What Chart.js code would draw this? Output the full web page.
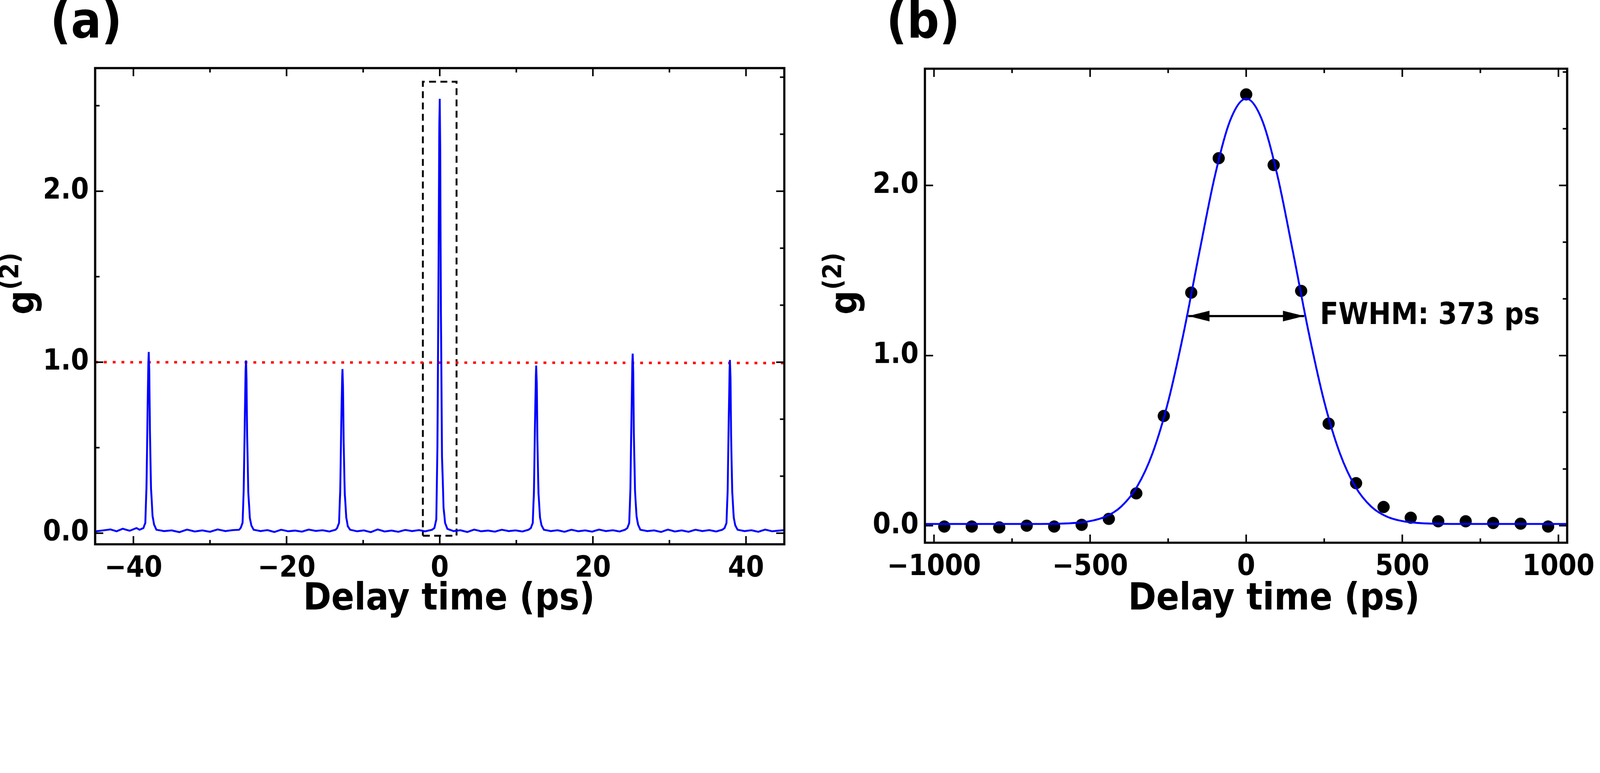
<!DOCTYPE html>
<html>
<head>
<meta charset="utf-8">
<script src="https://cdn.jsdelivr.net/npm/chart.js@4.4.0/dist/chart.umd.min.js"></script>
<style>
  body { margin: 0; background: #fff; overflow: hidden; }
  .panel { position: absolute; top: 0; }
  canvas { display: block; }
</style>
</head>
<body>
<div class="panel" id="panelA"><canvas id="chartA" width="2548" height="1980"></canvas></div>
<div class="panel" id="panelB"><canvas id="chartB" width="2549" height="1980"></canvas></div>
<script>
// ---------- data: panel (a) ----------
const delayA = [
  -45, -44, -43, -42.2, -41.4, -40.5, -39.6, -39.2,
  -38.7, -38.45, -38.3, -38.15, -38.05, -38.0, -37.93, -37.85, -37.7, -37.5, -37.3, -37.0,
  -36, -35, -34, -33, -32, -31, -30, -29, -28, -27, -26.2,
  -26.0, -25.75, -25.6, -25.45, -25.35, -25.3, -25.23, -25.15, -25.0, -24.8, -24.6, -24.3,
  -23.4, -22.5, -21.6, -20.7, -19.8, -18.9, -18, -17.1, -16.2, -15.3, -14.4, -13.6,
  -13.4, -13.15, -13.0, -12.85, -12.75, -12.7, -12.63, -12.55, -12.4, -12.2, -12.0, -11.7,
  -10.8, -9.9, -9, -8.1, -7.2, -6.3, -5.4, -4.5, -3.6, -2.7, -1.9, -1.0,
  -0.7, -0.45, -0.3, -0.15, -0.05, 0.0, 0.07, 0.15, 0.3, 0.5, 0.7, 1.0,
  1.8, 2.7, 3.6, 4.5, 5.4, 6.3, 7.2, 8.1, 9, 9.9, 10.8, 11.6,
  11.9, 12.15, 12.3, 12.45, 12.55, 12.6, 12.67, 12.75, 12.9, 13.1, 13.3, 13.6,
  14.5, 15.4, 16.3, 17.2, 18.1, 19, 19.9, 20.8, 21.7, 22.6, 23.5, 24.2,
  24.5, 24.75, 24.9, 25.05, 25.15, 25.2, 25.27, 25.35, 25.5, 25.7, 25.9, 26.2,
  27.1, 28, 28.9, 29.8, 30.7, 31.6, 32.5, 33.4, 34.3, 35.2, 36.1, 36.9,
  37.2, 37.45, 37.6, 37.75, 37.85, 37.9, 37.97, 38.05, 38.2, 38.4, 38.6, 38.9,
  39.8, 40.7, 41.6, 42.5, 43.4, 44.3, 45
];
const g2A = [
  0.010, 0.016, 0.022, 0.011, 0.026, 0.014, 0.030, 0.020,
  0.030, 0.060, 0.260, 0.720, 1.000, 1.060, 0.950, 0.600, 0.260, 0.100, 0.050, 0.020,
  0.012, 0.016, 0.006, 0.021, 0.010, 0.016, 0.008, 0.022, 0.012, 0.018, 0.020,
  0.030, 0.060, 0.250, 0.680, 0.950, 1.010, 0.900, 0.570, 0.240, 0.090, 0.045, 0.020,
  0.012, 0.018, 0.007, 0.020, 0.011, 0.015, 0.009, 0.021, 0.013, 0.017, 0.010, 0.020,
  0.030, 0.060, 0.240, 0.650, 0.900, 0.960, 0.860, 0.540, 0.230, 0.090, 0.040, 0.020,
  0.011, 0.016, 0.006, 0.022, 0.010, 0.015, 0.008, 0.019, 0.012, 0.018, 0.011, 0.020,
  0.030, 0.080, 0.500, 1.600, 2.400, 2.540, 2.250, 1.300, 0.450, 0.150, 0.060, 0.025,
  0.012, 0.017, 0.007, 0.021, 0.011, 0.015, 0.009, 0.020, 0.012, 0.016, 0.010, 0.020,
  0.030, 0.060, 0.240, 0.660, 0.920, 0.980, 0.880, 0.550, 0.230, 0.090, 0.045, 0.020,
  0.012, 0.017, 0.008, 0.020, 0.011, 0.016, 0.009, 0.021, 0.012, 0.017, 0.010, 0.020,
  0.030, 0.060, 0.260, 0.710, 0.990, 1.050, 0.940, 0.590, 0.250, 0.100, 0.050, 0.020,
  0.012, 0.016, 0.007, 0.021, 0.010, 0.016, 0.008, 0.020, 0.012, 0.018, 0.010, 0.020,
  0.030, 0.060, 0.250, 0.680, 0.950, 1.013, 0.910, 0.570, 0.240, 0.090, 0.045, 0.020,
  0.012, 0.017, 0.008, 0.021, 0.011, 0.015, 0.018
];
const refLineX = [-45, 45];
const refLineY = [1.0, 0.995];
const boxX = [-2.2, 2.2, 2.2, -2.2, -2.2];
const boxY = [-0.015, -0.015, 2.64, 2.64, -0.015];

// ---------- data: panel (b) ----------
const delayB = [-967, -879, -791, -703, -615, -527, -440, -352, -264, -176, -88, 0,
                88, 176, 264, 352, 440, 527, 615, 703, 791, 879, 967];
const g2B = [-0.005, -0.005, -0.01, 0.0, -0.005, 0.005, 0.04, 0.19, 0.645, 1.37, 2.16, 2.535,
             2.12, 1.38, 0.60, 0.25, 0.11, 0.047, 0.026, 0.026, 0.016, 0.012, -0.005];
const fitX = [-1030, -900, -800, -700, -600, -550, -500, -450, -400, -350, -300, -250, -200,
              -150, -100, -50, 0, 50, 100, 150, 200, 250, 300, 350, 400, 450, 500, 550, 600,
              700, 800, 900, 1030];
const fitY = [0.010, 0.010, 0.010, 0.010, 0.012, 0.016, 0.027, 0.054, 0.113, 0.228, 0.426, 0.729, 1.137,
              1.607, 2.058, 2.388, 2.510, 2.388, 2.058, 1.607, 1.137, 0.729, 0.426, 0.228, 0.113, 0.054,
              0.027, 0.016, 0.012, 0.010, 0.010, 0.010, 0.010];
const fwhmX = [-186, 186];
const fwhmY = [1.232, 1.232];

const FONT = "'DejaVu Sans Condensed', 'Liberation Sans Narrow', 'Liberation Sans', sans-serif";
const pts = (xs, ys) => xs.map((x, i) => ({x: x, y: ys[i]}));
const minus = v => (v < 0 ? '\u2212' + Math.abs(v) : '' + v);

// the window may not be 5097 css px wide, so fit the bitmap to it
const k = (window.innerWidth || 5097) / 5097;
document.getElementById('panelA').style.left = '0px';
document.getElementById('panelB').style.left = (2548 * k) + 'px';

// frame, inward ticks, titles
function framePlugin(cfg) {
  return {
    id: 'frame',
    afterDraw(chart) {
      const ctx = chart.ctx, a = chart.chartArea;
      const sx = chart.scales.x, sy = chart.scales.y;
      ctx.save();
      ctx.strokeStyle = '#000';
      ctx.lineWidth = 5;
      const tick = (x1, y1, x2, y2) => { ctx.beginPath(); ctx.moveTo(x1, y1); ctx.lineTo(x2, y2); ctx.stroke(); };
      cfg.xMajor.forEach(v => { const p = sx.getPixelForValue(v); tick(p, a.bottom, p, a.bottom - 26); tick(p, a.top, p, a.top + 26); });
      cfg.xMinor.forEach(v => { const p = sx.getPixelForValue(v); tick(p, a.bottom, p, a.bottom - 14); tick(p, a.top, p, a.top + 14); });
      cfg.yMajor.forEach(v => { const p = sy.getPixelForValue(v); tick(a.left, p, a.left + 26, p); tick(a.right, p, a.right - 26, p); });
      cfg.yMinorL.forEach(v => { const p = sy.getPixelForValue(v); tick(a.left, p, a.left + 14, p); });
      cfg.yMinorR.forEach(v => { const p = sy.getPixelForValue(v); tick(a.right, p, a.right - 14, p); });
      ctx.lineWidth = 7;
      ctx.strokeRect(a.left, a.top, a.right - a.left, a.bottom - a.top);

      ctx.fillStyle = '#000';
      ctx.textBaseline = 'middle';
      ctx.textAlign = 'center';
      ctx.font = 'bold 120px ' + FONT;
      ctx.fillText('Delay time (ps)', cfg.xTitleX, 1912);
      ctx.textAlign = 'left';
      ctx.font = 'bold 160px ' + FONT;
      ctx.fillText(cfg.label, cfg.labelX, 78);

      // rotated g(2)
      ctx.translate(cfg.yTitleX, 905);
      ctx.rotate(-Math.PI / 2);
      ctx.font = 'bold 120px ' + FONT;
      const gw = ctx.measureText('g').width;
      ctx.font = 'bold 82px ' + FONT;
      const sw = ctx.measureText('(2)').width;
      const x0 = -(gw + sw) / 2;
      ctx.font = 'bold 120px ' + FONT;
      ctx.textBaseline = 'alphabetic';
      ctx.fillText('g', x0, 25);
      ctx.font = 'bold 82px ' + FONT;
      ctx.fillText('(2)', x0 + gw + 2, -24);
      ctx.restore();
      if (cfg.extra) cfg.extra(chart);
    }
  };
}

function baseOptions(o) {
  return {
    responsive: false, animation: false, devicePixelRatio: 1,
    layout: { padding: { top: o.top, right: o.right } },
    plugins: { legend: { display: false }, tooltip: { enabled: false } },
    scales: {
      x: {
        type: 'linear', min: o.xmin, max: o.xmax,
        grid: { display: false }, border: { display: false },
        afterFit: s => { s.height = o.bottom; },
        afterBuildTicks: s => { s.ticks = o.xTicks.map(v => ({value: v})); },
        ticks: { color: '#000', padding: 16, maxRotation: 0, font: { family: FONT, size: 92, weight: 'bold' }, callback: v => minus(v) }
      },
      y: {
        type: 'linear', min: o.ymin, max: o.ymax,
        grid: { display: false }, border: { display: false },
        afterFit: s => { s.width = o.left; },
        afterBuildTicks: s => { s.ticks = [0, 1, 2].map(v => ({value: v})); },
        ticks: { color: '#000', padding: 12, font: { family: FONT, size: 92, weight: 'bold' }, callback: v => v.toFixed(1) }
      }
    }
  };
}

function fitCanvas(chart) {
  chart.canvas.style.width = (chart.canvas.width * k) + 'px';
  chart.canvas.style.height = (chart.canvas.height * k) + 'px';
}

// ---------- chart (a) ----------
const chartA = new Chart(document.getElementById('chartA'), {
  type: 'line',
  data: { datasets: [
    { data: pts(delayA, g2A), borderColor: '#0000ff', borderWidth: 6, pointRadius: 0, tension: 0 },
    { data: pts(refLineX, refLineY), borderColor: '#ff0000', borderWidth: 8, borderDash: [9, 19], pointRadius: 0 },
    { data: pts(boxX, boxY), borderColor: '#000', borderWidth: 6, borderDash: [22, 14], pointRadius: 0 }
  ]},
  options: baseOptions({ top: 217, right: 50, bottom: 245, left: 303,
                         xmin: -45, xmax: 45, ymin: -0.065, ymax: 2.72, xTicks: [-40, -20, 0, 20, 40] }),
  plugins: [framePlugin({
    xMajor: [-40, -20, 0, 20, 40], xMinor: [-30, -10, 10, 30],
    yMajor: [0, 1, 2], yMinorL: [0.5, 1.5, 2.5], yMinorR: [1/3, 2/3, 4/3, 5/3, 7/3, 8/3],
    xTitleX: 1430, yTitleX: 82, label: '(a)', labelX: 160
  })]
});
fitCanvas(chartA);

// ---------- chart (b) ----------
const chartB = new Chart(document.getElementById('chartB'), {
  type: 'line',
  data: { datasets: [
    { data: pts(fitX, fitY), borderColor: '#0000ff', borderWidth: 6, pointRadius: 0, cubicInterpolationMode: 'monotone' },
    { type: 'scatter', data: pts(delayB, g2B), backgroundColor: '#000', borderColor: '#000', pointRadius: 19 },
    { data: pts(fwhmX, fwhmY), borderColor: '#000', borderWidth: 7, pointRadius: 0 }
  ]},
  options: baseOptions({ top: 219, right: 98, bottom: 250, left: 398,
                         xmin: -1029, xmax: 1028, ymin: -0.1, ymax: 2.686, xTicks: [-1000, -500, 0, 500, 1000] }),
  plugins: [framePlugin({
    xMajor: [-1000, -500, 0, 500, 1000], xMinor: [-750, -250, 250, 750],
    yMajor: [0, 1, 2], yMinorL: [], yMinorR: [1/3, 2/3, 4/3, 5/3, 7/3, 8/3],
    xTitleX: 1510, yTitleX: 155, label: '(b)', labelX: 275,
    extra(chart) {
      const ctx = chart.ctx, sx = chart.scales.x, sy = chart.scales.y;
      const y = sy.getPixelForValue(fwhmY[0]);
      const xl = sx.getPixelForValue(fwhmX[0]), xr = sx.getPixelForValue(fwhmX[1]);
      ctx.save();
      ctx.fillStyle = '#000';
      ctx.beginPath(); ctx.moveTo(xl, y); ctx.lineTo(xl + 68, y - 17); ctx.lineTo(xl + 68, y + 17); ctx.closePath(); ctx.fill();
      ctx.beginPath(); ctx.moveTo(xr, y); ctx.lineTo(xr - 68, y - 17); ctx.lineTo(xr - 68, y + 17); ctx.closePath(); ctx.fill();
      ctx.font = 'bold 96px ' + FONT;
      ctx.textBaseline = 'middle';
      ctx.fillText('FWHM: 373 ps', sx.getPixelForValue(236), y);
      ctx.restore();
    }
  })]
});
fitCanvas(chartB);
</script>
</body>
</html>
